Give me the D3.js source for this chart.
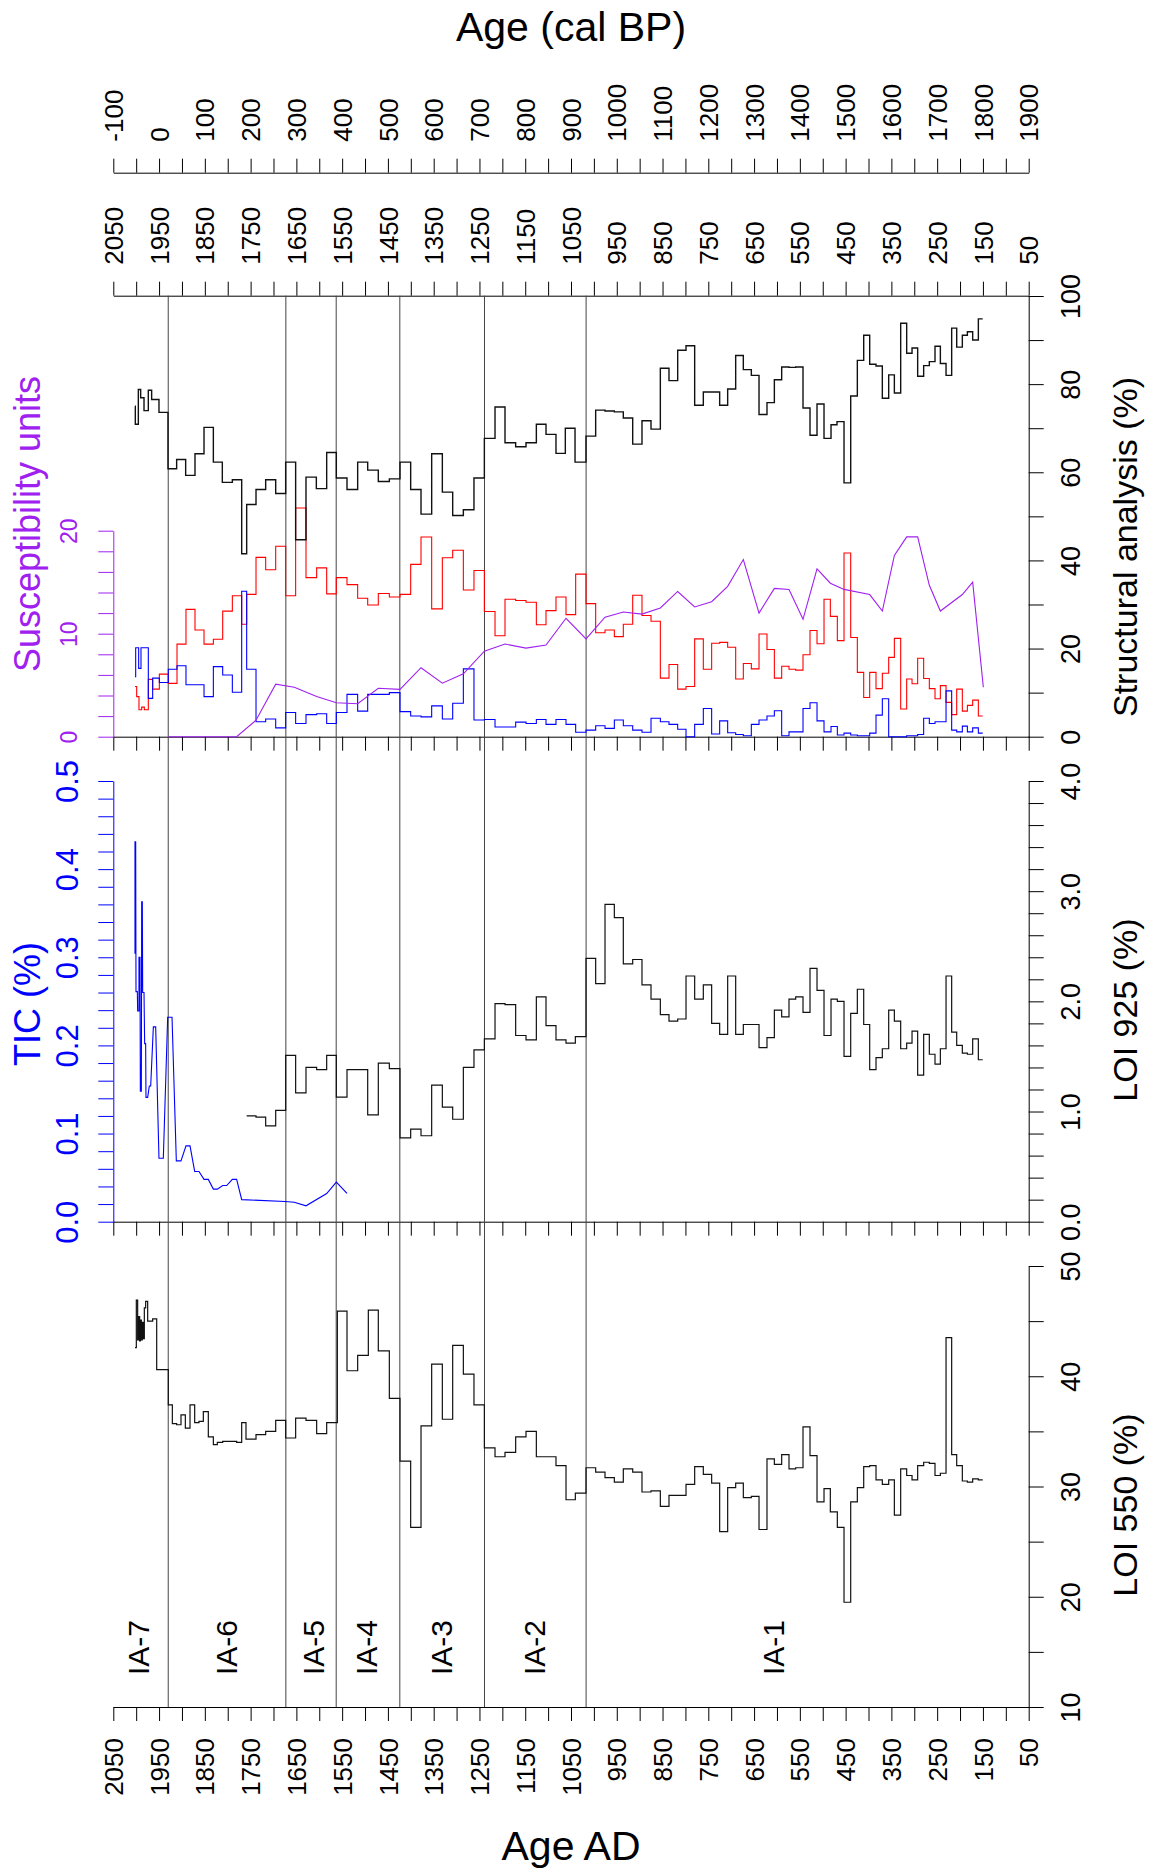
<!DOCTYPE html>
<html>
<head>
<meta charset="utf-8">
<script src="https://cdn.jsdelivr.net/npm/d3@7"></script>
<style>
  body { margin: 0; background: #fff; }
  svg { display: block; font-family: "Liberation Sans", Arial, Helvetica, sans-serif; }
</style>
</head>
<body>
<svg id="chart" width="1151" height="1875"></svg>
<script>
// ---- DATA (ages in years AD) ----

// structural analysis (%), black step series
const blackAge = [2002.6,2001.9,1995.3,1990.2,1982.9,1973.5,1966.2,1950.2,1930.5,1911.6,
  1891.9,1871.5,1851.8,1831.4,1811.8,1789.9,1769.5,1758.6,1738.2,1717.1,
  1695.2,1673.4,1651.6,1629,1606.4,1583.8,1562.7,1539.4,1516.1,1494.2,
  1471,1446.9,1423.6,1400.3,1377.7,1354.4,1331.1,1308.5,1285.2,1262,
  1239.3,1216,1194.2,1170.9,1148.3,1125.7,1104.6,1082.8,1062.4,1041.2,
  1017.2,996.1,975.7,955.3,935.7,915.2,894.9,875.2,854.8,835.9,
  816.9,798.7,779.8,760.9,725.2,707.7,690.2,673.5,656,639.2,
  621.8,605.7,589.7,573.7,559.1,543.1,527.8,512.5,497.2,481.9,
  468.8,453.5,438.9,424.4,410.5,397.4,383.6,369.8,355.9,343.5,
  329.7,316.6,304.9,292.6,279.5,267.1,254.7,243,230.6,218.3,
  207.3,195,184,172.4,160,150.5];
const blackPct = [75.0,70.9,78.8,76.9,74.0,78.6,76.5,73.6,60.8,62.9,
  59.3,64.2,70.2,62.3,57.7,58.3,41.5,52.7,56.1,58.3,
  55.2,62.3,44.7,58.9,56.3,64.5,58.7,56.1,62.3,60.5,
  57.9,58.5,62.3,56.1,50.5,64.2,55.5,50.2,51.5,58.7,
  67.7,74.8,66.7,65.8,66.7,70.9,68.6,64.3,70.0,62.3,
  68.2,74.1,73.9,73.7,72.3,66.4,71.7,69.8,83.6,80.8,
  87.7,88.7,75.2,78.2,75.2,78.9,86.5,83.3,82.0,73.1,
  75.8,81.0,83.9,83.8,83.9,74.6,68.4,75.5,67.7,70.8,
  71.5,57.6,77.3,85.4,91.1,84.5,84.1,76.8,82.1,78.0,
  93.8,87.0,88.2,81.8,84.2,85.1,88.6,84.7,82.0,92.7,
  88.4,91.1,91.9,90.0,94.8,94.8];

// structural analysis (%), red step series
const redAge = [2002.6,1998.9,1993.9,1988.0,1982.2,1973.5,1964.0,1949.4,1929.8,1910.8,
  1891.2,1871.5,1851.8,1831.4,1811.0,1789.9,1769.5,1758.6,1738.2,1717.1,
  1695.2,1673.4,1651.6,1629.0,1605.7,1583.8,1562.7,1539.4,1516.1,1494.2,
  1471.0,1446.9,1423.6,1400.3,1377.7,1354.4,1331.1,1308.5,1285.2,1262.0,
  1239.3,1216.0,1194.2,1170.9,1148.3,1125.7,1104.6,1082.8,1060.9,1039.8,
  1017.2,996.1,975.7,955.3,935.7,915.2,894.9,875.2,854.8,835.9,
  816.9,798.7,779.8,760.9,742.7,725.2,707.7,690.2,673.5,656.0,
  639.2,621.8,605.7,589.7,573.7,559.1,543.1,527.8,512.5,497.2,
  483.4,468.1,453.5,438.9,424.4,410.5,397.4,383.6,369.8,355.9,
  343.5,329.7,316.6,304.9,292.6,279.5,267.1,254.7,243.0,230.6,
  218.3,207.3,195.0,184.0,172.4,160.0,150.5];
const redPct = [11.4,9.1,6.1,6.7,6.1,13.0,10.8,14.2,12.1,21.0,
  28.9,24.2,21.0,22.1,28.5,32.0,25.5,32.3,40.7,37.9,
  43.2,32.0,51.9,36.1,38.3,32.4,36.1,34.5,31.4,29.9,
  32.5,31.7,32.3,39.1,45.3,29.0,40.6,42.3,33.3,37.7,
  28.4,22.9,31.2,30.9,30.5,25.4,28.6,31.7,27.7,36.9,
  30.2,23.6,24.2,22.7,25.5,32.1,27.5,26.2,13.3,16.4,
  10.8,11.4,22.2,15.3,21.2,21.4,20.3,13.1,16.6,15.4,
  23.3,19.8,13.3,16.0,15.3,15.1,18.6,24.1,21.1,31.2,
  27.3,21.8,41.7,22.5,14.6,8.9,14.6,10.9,14.4,18.0,
  22.3,6.3,13.1,12.0,17.8,13.2,10.9,8.6,11.6,7.8,
  5.0,10.8,5.8,7.1,8.3,4.7,4.7];

// structural analysis (%), blue step series
const blueAge = [2002.6,2001.1,1994.6,1989.5,1973.5,1964.0,1949.4,1929.8,1910.8,1891.2,
  1851.8,1831.4,1811.0,1789.9,1769.5,1758.6,1738.2,1717.1,1695.2,1673.4,
  1651.6,1629.0,1605.7,1583.8,1562.7,1539.4,1516.1,1494.2,1446.9,1423.6,
  1400.3,1377.7,1354.4,1331.1,1308.5,1285.2,1262.0,1239.3,1216.0,1170.9,
  1148.3,1125.7,1104.6,1082.8,1060.9,1039.8,1017.2,996.1,975.7,955.3,
  935.7,915.2,894.9,875.2,854.8,835.9,816.9,798.7,779.8,760.9,
  742.7,725.2,707.7,690.2,673.5,656.0,639.2,621.8,605.7,589.7,
  573.7,543.1,527.8,512.5,497.2,481.9,468.1,453.5,438.9,424.4,
  397.4,383.6,369.8,355.9,316.6,292.6,279.5,267.1,254.7,243.0,
  230.6,218.3,207.3,195.0,184.0,172.4,160.0,150.5];
const bluePct = [13.6,20.2,15.5,20.2,8.7,13.3,12.3,15.3,16.1,11.8,
  9.1,15.9,14.0,10.1,33.0,15.3,3.4,4.0,2.0,5.5,
  3.0,5.0,5.2,3.0,5.5,9.6,5.8,9.6,10.0,5.7,
  4.7,4.5,7.0,4.0,7.6,15.4,3.8,3.9,2.2,3.3,
  3.0,3.9,2.8,3.9,2.8,1.0,1.5,2.5,1.9,3.8,
  2.5,1.5,1.0,4.2,3.4,2.8,1.7,0,2.8,6.4,
  0.6,3.6,0.9,0.5,0.2,2.8,3.8,4.7,5.9,0.2,
  1.1,6.4,7.7,3.6,1.1,2.3,0.4,0.8,0.4,0.2,
  0.8,4.9,8.6,0,0.2,0.5,4.2,3.0,3.4,3.4,
  10.4,1.5,1.1,2.4,1.1,2.0,0.8,0.8];

// magnetic susceptibility (units), purple line
const suscAge = [1929.8,1780.5,1738.2,1695.2,1654.5,1605.7,1562.7,1516.1,1471,1423.6,
  1377.7,1331.1,1285.2,1239.3,1194.2,1148.3,1104.6,1060.9,1017.2,975.7,
  935.7,894.9,854.8,816.9,779.8,742.7,707.7,673.5,639.2,605.7,
  573.7,543.1,512.5,483.4,453.5,397.4,369.8,343.5,316.6,292.6,
  267.1,243,195,172.4,149.1];
const suscVal = [0,0,1.6,5.1,4.8,3.9,3.3,3.2,4.7,4.6,
  6.7,5.2,6.1,8.3,9.0,8.6,8.9,11.5,9.5,11.6,
  12.1,11.9,12.5,14.1,12.6,13.1,14.6,17.2,12.0,14.4,
  14.3,11.4,16.3,14.9,14.3,13.8,12.2,17.6,19.4,19.4,
  14.7,12.2,13.8,15.0,4.8];

// TIC (%), blue line
const ticAge = [2002.6,2002.6,2001.1,2000.4,1997.5,1996.8,1993.9,1993.9,1991.7,1990.9,
  1988.7,1988.0,1986.6,1985.8,1982.9,1981.5,1979.3,1978.6,1974.9,1971.3,
  1968.3,1962.5,1957.4,1950.2,1940.7,1931.2,1921.7,1912.3,1902.1,1891.2,
  1882.4,1872.2,1862.8,1851.8,1842.4,1831.4,1822.7,1811.0,1802.3,1789.9,
  1780.5,1769.5,1674.9,1654.5,1629.0,1583.8,1562.7,1539.4];
const ticVal = [0.304,0.431,0.431,0.261,0.261,0.239,0.239,0.300,0.300,0.148,
  0.148,0.363,0.363,0.260,0.260,0.202,0.202,0.141,0.141,0.154,
  0.154,0.221,0.221,0.072,0.072,0.232,0.232,0.069,0.069,0.086,
  0.086,0.057,0.057,0.048,0.048,0.037,0.037,0.041,0.041,0.048,
  0.048,0.025,0.023,0.022,0.018,0.032,0.045,0.032];

// LOI 925 (%), black step series
const loi925Age = [1758.6,1738.2,1717.1,1695.2,1673.4,1651.6,1629.0,1605.7,1583.8,1562.7,
  1539.4,1516.1,1494.2,1471.0,1446.9,1423.6,1400.3,1377.7,1354.4,1331.1,
  1308.5,1285.2,1262.0,1239.3,1216.0,1194.2,1170.9,1148.3,1125.7,1104.6,
  1082.8,1060.9,1040.5,1017.2,996.1,975.7,955.3,935.7,915.2,894.9,
  875.2,854.8,835.9,816.9,798.7,779.8,760.9,742.7,725.2,707.7,
  690.2,673.5,656.0,639.2,621.8,605.7,589.7,573.7,559.1,543.1,
  527.8,512.5,497.2,481.9,468.1,453.5,438.9,424.4,410.5,397.4,
  383.6,369.8,355.9,343.5,329.7,316.6,304.9,292.6,279.5,267.1,
  254.7,243.0,230.6,218.3,207.3,195.0,184.0,172.4,160.0,150.5];
const loi925Val = [0.96,0.95,0.87,1.01,1.51,1.17,1.40,1.38,1.51,1.13,
  1.38,1.38,0.97,1.44,1.39,0.76,0.84,0.78,1.24,1.04,
  0.93,1.40,1.56,1.66,1.98,1.97,1.69,1.65,2.04,1.78,
  1.65,1.62,1.68,2.39,2.16,2.88,2.76,2.34,2.38,2.15,
  2.02,1.88,1.82,1.84,2.23,2.02,2.15,1.80,1.70,2.23,
  1.70,1.79,1.79,1.58,1.67,1.92,1.86,2.02,2.04,1.90,
  2.30,2.10,1.69,2.02,2.00,1.50,1.89,2.11,1.79,1.38,
  1.49,1.57,1.92,1.82,1.57,1.62,1.73,1.33,1.70,1.52,
  1.43,1.57,2.23,1.72,1.60,1.53,1.52,1.66,1.47,1.47];

// LOI 550 (%), black step series
const loi550Age = [2002.6,1999.7,1996.8,1994.6,1992.4,1990.9,1988.7,1986.6,1984.4,1982.2,
  1979.3,1974.9,1964.0,1955.2,1929.8,1921.0,1911.6,1902.1,1892.6,1882.4,
  1872.2,1862.8,1853.3,1842.4,1831.4,1822.7,1811.0,1780.5,1769.5,1760.1,
  1738.2,1717.1,1695.2,1673.4,1651.6,1629.0,1605.7,1583.8,1560.5,1539.4,
  1516.1,1492.8,1471.0,1446.9,1423.6,1400.3,1377.7,1354.4,1331.1,1308.5,
  1285.2,1262.0,1239.3,1216.0,1194.2,1170.9,1148.3,1125.7,1082.8,1060.9,
  1040.5,1017.2,996.1,975.7,955.3,935.7,915.2,894.9,875.2,854.8,
  835.9,816.9,798.7,779.8,760.9,742.7,725.2,707.7,690.2,673.5,
  656.0,639.2,621.8,605.7,589.7,573.7,559.1,543.1,527.8,512.5,
  497.2,483.4,468.1,453.5,438.9,424.4,410.5,397.4,383.6,369.8,
  355.9,343.5,329.7,316.6,304.9,292.6,279.5,267.1,254.7,243.0,
  230.6,218.3,207.3,195.0,184.0,172.4,160.0,150.5];
const loi550Val = [42.6,46.9,43.3,45.4,43.2,45.1,43.3,44.9,43.4,46.2,
  46.8,45.0,45.2,40.6,37.4,35.7,35.6,36.5,35.3,37.4,
  35.8,35.9,36.8,34.5,33.8,34.0,34.1,34.0,35.8,34.3,
  34.7,35.0,36.0,34.4,36.2,36.0,34.8,35.8,45.9,40.5,
  41.9,46.0,42.3,38.0,32.3,26.3,35.5,41.1,36.1,42.8,
  40.2,37.4,33.5,32.7,33.1,34.5,35.0,32.7,31.9,28.8,
  29.4,31.7,31.3,30.8,30.4,31.6,31.3,29.5,29.6,28.2,
  29.2,29.2,30.2,31.8,31.1,30.3,25.9,29.9,30.3,29.0,
  29.1,26.1,32.5,32.0,32.9,31.6,31.7,35.4,32.8,28.6,
  29.8,27.7,26.3,19.5,28.6,29.9,31.8,31.9,30.6,30.2,
  30.6,27.4,31.6,31.0,30.6,31.9,32.2,32.1,31.0,31.2,
  43.5,32.9,31.9,30.5,30.4,30.7,30.6,30.6];

// pollen zones: boundaries (AD) and label positions
const zoneBounds = [1930, 1673, 1563, 1424, 1239, 1017];
const zoneNames = ["IA-7", "IA-6", "IA-5", "IA-4", "IA-3", "IA-2", "IA-1"];
const zoneLabelAge = [1995, 1802, 1613, 1496, 1333, 1129, 608];

// labelled ticks
const adLabels = [2050,1950,1850,1750,1650,1550,1450,1350,1250,1150,1050,950,850,750,650,550,450,350,250,150,50];
const bpLabels = [-100,0,100,200,300,400,500,600,700,800,900,1000,1100,1200,1300,1400,1500,1600,1700,1800,1900];

// ---- SETUP ----
const svg = d3.select("#chart");
const purple = "#a020f0";
const FONT = "'Liberation Sans', Arial, Helvetica, sans-serif";

const left = 113.3, right = 1028.7;
const x = d3.scaleLinear().domain([2050, 50]).range([left, right]);
const xbp = d3.scaleLinear().domain([-100, 1900]).range([left, right]);

const yStruct = d3.scaleLinear().domain([0, 100]).range([736.7, 296]);
const ySusc = d3.scaleLinear().domain([0, 20]).range([736.7, 530.7]);
const yLoi925 = d3.scaleLinear().domain([0, 4]).range([1221.7, 781]);
const yTic = d3.scaleLinear().domain([0, 0.5]).range([1221.7, 781]);
const yLoi550 = d3.scaleLinear().domain([10, 50]).range([1707, 1266]);

function styleAxis(g, color, size) {
  g.attr("font-family", FONT).attr("font-size", size);
  g.selectAll("path.domain").attr("stroke", color);
  g.selectAll(".tick line").attr("stroke", color);
  g.selectAll(".tick text").attr("fill", color);
}

// horizontal (age) axes
const ageTicks = d3.range(2050, 49, -50);
const bpTicks = d3.range(-100, 1901, 50);

// Age (cal BP) axis
svg.append("g")
  .attr("transform", "translate(0,172.7)")
  .call(d3.axisTop(xbp).tickValues(bpTicks).tickSize(14).tickSizeOuter(0)
    .tickFormat(d => bpLabels.includes(d) ? d : ""))
  .call(g => styleAxis(g, "#000", 26))
  .call(g => g.selectAll(".tick text")
    .attr("transform", "rotate(-90)").attr("x", 31).attr("y", 0)
    .attr("dy", "0.35em").attr("text-anchor", "start"));

// Age AD axis on top of the upper panel
svg.append("g")
  .attr("transform", "translate(0,295.7)")
  .call(d3.axisTop(x).tickValues(ageTicks).tickSize(14).tickSizeOuter(0)
    .tickFormat(d => adLabels.includes(d) ? d : ""))
  .call(g => styleAxis(g, "#000", 26))
  .call(g => g.selectAll(".tick text")
    .attr("transform", "rotate(-90)").attr("x", 31).attr("y", 0)
    .attr("dy", "0.35em").attr("text-anchor", "start"));

// unlabelled axes under the upper and middle panels
[736.7, 1221.7].forEach(yy => {
  svg.append("g")
    .attr("transform", "translate(0," + yy + ")")
    .call(d3.axisBottom(x).tickValues(ageTicks).tickSize(14).tickSizeOuter(0).tickFormat(""))
    .call(g => styleAxis(g, "#000", 26));
});

// Age AD axis at the bottom
svg.append("g")
  .attr("transform", "translate(0,1707)")
  .call(d3.axisBottom(x).tickValues(ageTicks).tickSize(14).tickSizeOuter(0)
    .tickFormat(d => adLabels.includes(d) ? d : ""))
  .call(g => styleAxis(g, "#000", 26))
  .call(g => g.selectAll(".tick text")
    .attr("transform", "rotate(-90)").attr("x", -31).attr("y", 0)
    .attr("dy", "0.35em").attr("text-anchor", "end"));

// vertical axes: labels parallel to the axis
function vLabels(g, offset) {
  g.selectAll(".tick text")
    .attr("transform", "rotate(-90)").attr("x", 0).attr("y", offset)
    .attr("dy", "0.35em").attr("text-anchor", "middle");
}

// susceptibility (left, purple)
svg.append("g")
  .attr("transform", "translate(" + left + ",0)")
  .call(d3.axisLeft(ySusc).tickValues(d3.range(0, 21, 2)).tickSize(15).tickSizeOuter(0)
    .tickFormat(d => d % 10 === 0 ? d : ""))
  .call(g => styleAxis(g, purple, 23))
  .call(g => vLabels(g, -44));

// TIC (left, blue)
svg.append("g")
  .attr("transform", "translate(" + left + ",0)")
  .call(d3.axisLeft(yTic).tickValues(d3.range(26).map(i => i * 0.02)).tickSize(15).tickSizeOuter(0)
    .tickFormat(d => Math.round(d * 50) % 5 === 0 ? d.toFixed(1) : ""))
  .call(g => styleAxis(g, "#0000ff", 31))
  .call(g => vLabels(g, -46));

// structural analysis (right)
svg.append("g")
  .attr("transform", "translate(" + right + ",0)")
  .call(d3.axisRight(yStruct).tickValues(d3.range(0, 101, 10)).tickSize(15).tickSizeOuter(0)
    .tickFormat(d => d % 20 === 0 ? d : ""))
  .call(g => styleAxis(g, "#000", 27))
  .call(g => vLabels(g, 42));

// LOI 925 (right)
svg.append("g")
  .attr("transform", "translate(" + right + ",0)")
  .call(d3.axisRight(yLoi925).tickValues(d3.range(21).map(i => i * 0.2)).tickSize(15).tickSizeOuter(0)
    .tickFormat(d => Math.round(d * 5) % 5 === 0 ? d.toFixed(1) : ""))
  .call(g => styleAxis(g, "#000", 27))
  .call(g => vLabels(g, 42));

// LOI 550 (right)
svg.append("g")
  .attr("transform", "translate(" + right + ",0)")
  .call(d3.axisRight(yLoi550).tickValues(d3.range(10, 51, 5)).tickSize(15).tickSizeOuter(0)
    .tickFormat(d => d % 10 === 0 ? d : ""))
  .call(g => styleAxis(g, "#000", 27))
  .call(g => vLabels(g, 42));

// zone boundaries
svg.append("g").selectAll("line")
  .data(zoneBounds)
  .enter().append("line")
  .attr("x1", d => x(d)).attr("x2", d => x(d))
  .attr("y1", 295.7).attr("y2", 1707)
  .attr("stroke", "#444").attr("stroke-width", 1);

// zone names
svg.append("g").selectAll("text")
  .data(zoneNames)
  .enter().append("text")
  .attr("transform", (d, i) => "translate(" + x(zoneLabelAge[i]) + ",1675) rotate(-90)")
  .attr("dy", "0.35em")
  .attr("font-size", 30).attr("font-family", FONT)
  .text(d => d);

// ---- SERIES ----
function stepPath(age, val, yScale, color, width) {
  svg.append("path")
    .datum(d3.zip(age, val))
    .attr("fill", "none").attr("stroke", color).attr("stroke-width", width)
    .attr("d", d3.line().x(d => x(d[0])).y(d => yScale(d[1])).curve(d3.curveStepAfter));
}
function linePath(age, val, yScale, color, width) {
  svg.append("path")
    .datum(d3.zip(age, val))
    .attr("fill", "none").attr("stroke", color).attr("stroke-width", width)
    .attr("d", d3.line().x(d => x(d[0])).y(d => yScale(d[1])));
}

stepPath(redAge, redPct, yStruct, "#ff0000", 1.1);
stepPath(blueAge, bluePct, yStruct, "#0000ff", 1.1);
stepPath(blackAge, blackPct, yStruct, "#111", 1.4);
linePath(suscAge, suscVal, ySusc, purple, 1.1);

linePath(ticAge, ticVal, yTic, "#0000ff", 1.1);
stepPath(loi925Age, loi925Val, yLoi925, "#111", 1.2);

stepPath(loi550Age, loi550Val, yLoi550, "#111", 1.2);

// ---- TITLES ----
function title(txt, tx, ty, rot, color, size) {
  svg.append("text")
    .attr("transform", "translate(" + tx + "," + ty + ")" + (rot ? " rotate(-90)" : ""))
    .attr("text-anchor", "middle").attr("dy", "0.35em")
    .attr("font-family", FONT).attr("font-size", size)
    .attr("fill", color)
    .text(txt);
}
title("Age (cal BP)", 571, 27, false, "#000", 41);
title("Age AD", 571, 1846, false, "#000", 41);
title("Susceptibility units", 27, 524, true, purple, 36);
title("TIC (%)", 27, 1004, true, "#0000ff", 36);
title("Structural analysis (%)", 1125, 547, true, "#000", 34);
title("LOI 925 (%)", 1125, 1010, true, "#000", 34);
title("LOI 550 (%)", 1125, 1505, true, "#000", 34);
</script>
</body>
</html>
